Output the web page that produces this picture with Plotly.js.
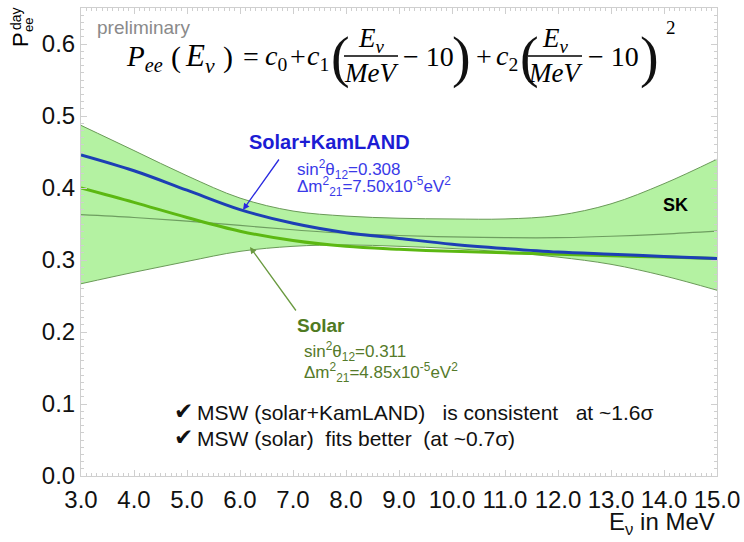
<!DOCTYPE html>
<html>
<head>
<meta charset="utf-8">
<script src="https://cdn.plot.ly/plotly-3.0.1.min.js"></script>
<style>
  html, body { margin: 0; padding: 0; background: #ffffff; }
  #chart { width: 744px; height: 542px; }
</style>
</head>
<body>
<div id="chart"></div>
<script>
// Neutrino energy grid (MeV)
const energy = [3, 4, 5, 6, 7, 8, 9, 10, 11, 12, 13, 14, 15];

// SK day-time survival probability: quadratic fit band and central value
const skUpper  = [0.487, 0.452, 0.417, 0.386, 0.368, 0.361, 0.358, 0.357, 0.357, 0.362, 0.378, 0.406, 0.440];
const skLower  = [0.267, 0.283, 0.298, 0.312, 0.319, 0.321, 0.319, 0.316, 0.311, 0.304, 0.294, 0.278, 0.258];
const skCentre = [0.363, 0.359, 0.354, 0.348, 0.342, 0.337, 0.334, 0.332, 0.331, 0.331, 0.333, 0.336, 0.340];

// MSW predictions
const solarKamland = [0.446, 0.424, 0.397, 0.370, 0.351, 0.338, 0.330, 0.322, 0.316, 0.311, 0.308, 0.305, 0.302];
const solarOnly    = [0.400, 0.380, 0.359, 0.340, 0.327, 0.319, 0.315, 0.312, 0.310, 0.308, 0.306, 0.304, 0.302];

// Axis ticks
const xTicks = [3, 4, 5, 6, 7, 8, 9, 10, 11, 12, 13, 14, 15];
const yTicks = [0, 0.1, 0.2, 0.3, 0.4, 0.5, 0.6];

// Plot-area frame in pixels, used to place text in paper coordinates
const L = 81, R = 717, T = 8, B = 476;
const W = R - L, H = B - T;
function at(px, py) {
  return { xref: 'paper', yref: 'paper', x: (px - L) / W, y: (B - py) / H };
}

const SANS = 'Liberation Sans, Arial, sans-serif';
const SERIF = 'Liberation Serif, Times New Roman, serif';

function label(text, px, py, size, color, extra) {
  return Object.assign(at(px, py), {
    text: text, showarrow: false, xanchor: 'center', yanchor: 'middle',
    font: { family: SANS, size: size, color: color }
  }, extra || {});
}
function leftLabel(text, px, py, size, color, family) {
  return Object.assign(at(px, py), {
    text: text, showarrow: false, xanchor: 'left', yanchor: 'middle',
    font: { family: family || SANS, size: size, color: color }
  });
}
function math(text, px, py, size, color) {
  return Object.assign(at(px, py), {
    text: text, showarrow: false, xanchor: 'center', yanchor: 'middle',
    font: { family: SERIF, size: size, color: color || '#000' }
  });
}

const bandEdge = '#6a9a58';

const traces = [
  { x: energy, y: skLower, mode: 'lines', line: { color: bandEdge, width: 1, shape: 'spline' },
    hoverinfo: 'skip', showlegend: false },
  { x: energy, y: skUpper, mode: 'lines', line: { color: bandEdge, width: 1, shape: 'spline' },
    fill: 'tonexty', fillcolor: '#b4f2a2', hoverinfo: 'skip', showlegend: false },
  { x: energy, y: skCentre, mode: 'lines', line: { color: '#6e9e60', width: 1.2, shape: 'spline' },
    hoverinfo: 'skip', showlegend: false },
  { x: energy, y: solarOnly, mode: 'lines', line: { color: '#5cb812', width: 3, shape: 'spline' },
    hoverinfo: 'skip', showlegend: false },
  { x: energy, y: solarKamland, mode: 'lines', line: { color: '#1d3fb5', width: 3, shape: 'spline' },
    hoverinfo: 'skip', showlegend: false }
];

const annotations = [
  // y-axis title: P with stacked "day" / "ee"
  label('P', 21, 39, 22, '#000', { textangle: -90 }),
  label('day', 15.5, 18.5, 14, '#000', { textangle: -90 }),
  label('ee', 29, 25, 13, '#000', { textangle: -90 }),

  // x-axis title
  Object.assign(at(717, 523), { text: 'E<sub>ν</sub> in MeV', showarrow: false,
    xanchor: 'right', yanchor: 'middle', font: { family: SANS, size: 24, color: '#111' } }),

  label('preliminary', 143, 28, 19, '#8a8a8a'),

  // fit formula  P_ee(E_nu) = c0 + c1 (E_nu/MeV - 10) + c2 (E_nu/MeV - 10)^2
  leftLabel('<i>P</i><sub><i>ee</i></sub>', 124, 58, 29, '#000', SERIF),
  math('(', 176, 57, 30),
  math('<i>E</i><sub><i>ν</i></sub>', 200, 58, 31),
  math(')', 228, 57, 30),
  math('=', 251, 57, 28),
  math('<i>c</i><sub>0</sub>', 276, 58, 28),
  math('+', 298, 57, 28),
  math('<i>c</i><sub>1</sub>', 318, 58, 28),
  math('(', 340, 58, 56, '#111'),
  math('<i>E</i><sub><i>ν</i></sub>', 371, 40, 27),
  math('<i>MeV</i>', 371, 73, 27),
  math('− 10', 428, 57, 28),
  math(')', 461, 58, 56, '#111'),
  math('+', 484, 57, 28),
  math('<i>c</i><sub>2</sub>', 507, 58, 28),
  math('(', 529, 58, 56, '#111'),
  math('<i>E</i><sub><i>ν</i></sub>', 555, 40, 27),
  math('<i>MeV</i>', 555, 73, 27),
  math('− 10', 613, 57, 28),
  math(')', 649, 58, 56, '#111'),
  math('2', 671, 28, 19),

  // Solar+KamLAND label and parameters
  leftLabel('<b>Solar+KamLAND</b>', 247, 142, 20, '#1c1cd4'),
  leftLabel('sin<sup>2</sup>θ<sub>12</sub>=0.308', 295, 169, 17, '#3a3ae8'),
  leftLabel('Δm<sup>2</sup><sub>21</sub>=7.50x10<sup>-5</sup>eV<sup>2</sup>', 295, 186, 17, '#3a3ae8'),
  Object.assign(at(243, 210), { text: '', showarrow: true, ax: 37, ay: -52, arrowhead: 2,
    arrowsize: 1, arrowwidth: 1.3, arrowcolor: '#2a2ae0', standoff: 0 }),

  // Solar label and parameters
  leftLabel('<b>Solar</b>', 295, 325, 19, '#4f7a22'),
  leftLabel('sin<sup>2</sup>θ<sub>12</sub>=0.311', 302, 351, 17, '#557a2a'),
  leftLabel('Δm<sup>2</sup><sub>21</sub>=4.85x10<sup>-5</sup>eV<sup>2</sup>', 302, 372, 17, '#557a2a'),
  Object.assign(at(250, 247), { text: '', showarrow: true, ax: 47, ay: 65, arrowhead: 2,
    arrowsize: 1, arrowwidth: 1.3, arrowcolor: '#6a9a40', standoff: 0 }),

  label('<b>SK</b>', 675, 205, 18, '#000'),

  // conclusions
  label('✔', 183, 411, 23, '#111', { font: { family: 'DejaVu Sans', size: 23, color: '#111' } }),
  leftLabel('MSW (solar+KamLAND)   is consistent   at ~1.6σ', 195, 412, 21, '#111'),
  label('✔', 183, 437, 23, '#111', { font: { family: 'DejaVu Sans', size: 23, color: '#111' } }),
  leftLabel('MSW (solar)  fits better  (at ~0.7σ)', 195, 438, 21, '#111')
];

// fraction bars in the formula
function bar(x0, x1, py) {
  return { type: 'line', xref: 'paper', yref: 'paper',
    x0: (x0 - L) / W, x1: (x1 - L) / W, y0: (B - py) / H, y1: (B - py) / H,
    line: { color: '#000', width: 1.3 } };
}

const frame = {
  showline: true, linecolor: '#cfcfcf', linewidth: 1, mirror: 'ticks',
  ticks: 'inside', tickcolor: '#cfcfcf', ticklen: 6, tickwidth: 1,
  showgrid: false, zeroline: false, tickformat: '.1f',
  tickfont: { family: SANS, size: 24, color: '#111' }
};

const layout = {
  width: 744, height: 542,
  margin: { l: L, r: 744 - R, t: T, b: 542 - B },
  paper_bgcolor: '#ffffff', plot_bgcolor: '#ffffff',
  showlegend: false,
  xaxis: Object.assign({}, frame, {
    range: [3, 15], tickmode: 'array', tickvals: xTicks, ticklabelstandoff: 2,
    minor: { dtick: 0.1, ticks: 'inside', ticklen: 3, tickcolor: '#cfcfcf' }
  }),
  yaxis: Object.assign({}, frame, {
    range: [0, 0.65], tickmode: 'array', tickvals: yTicks, ticklabelstandoff: 0,
    minor: { dtick: 0.01, ticks: 'inside', ticklen: 3, tickcolor: '#cfcfcf' }
  }),
  annotations: annotations,
  shapes: [bar(344, 398, 56), bar(528, 582, 56)]
};

Plotly.newPlot('chart', traces, layout, { staticPlot: true, displayModeBar: false });
</script>
</body>
</html>
